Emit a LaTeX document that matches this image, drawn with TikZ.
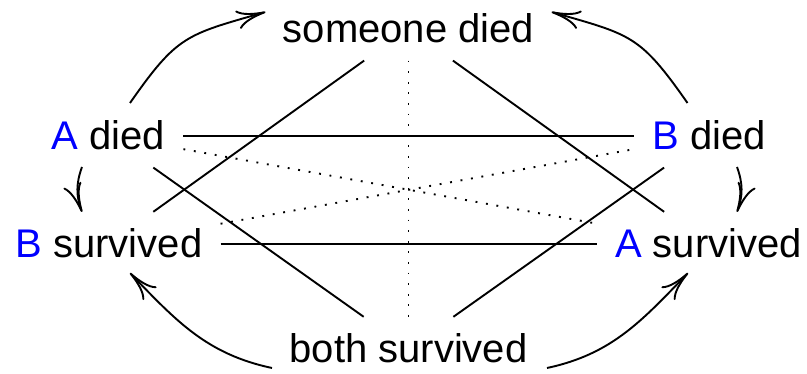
\documentclass[tikz,border=0pt]{standalone}
\usepackage{fontspec}
\setmainfont{Liberation Sans}
\usetikzlibrary{arrows.meta,calc}
\definecolor{lblue}{RGB}{0,0,255}
\begin{document}
\begin{tikzpicture}[x=1pt,y=1pt,
  lbl/.style={inner xsep=18pt,inner ysep=17pt,font=\fontsize{40}{48}\selectfont},
  conn/.style={line width=1.9pt},
  dotline/.style={line width=1.9pt,dash pattern=on 1.9pt off 8.7pt},
  arr/.style={line width=1.9pt,-{Computer Modern Rightarrow[length=29pt,width=19pt,line width=1.9pt]}}]
\useasboundingbox (0,0) rectangle (807,374);
\node[lbl,anchor=base] (sd)  at (408.5,331) {someone died};
\node[lbl,anchor=base] (ad)  at (108.5,224) {\textcolor{lblue}{A} died};
\node[lbl,anchor=base] (bd)  at (709,224)   {\textcolor{lblue}{B} died};
\node[lbl,anchor=base] (bs)  at (109,116)   {\textcolor{lblue}{B} survived};
\node[lbl,anchor=base] (as)  at (708.5,116) {\textcolor{lblue}{A} survived};
\node[lbl,anchor=base] (bsv) at (408.5,11)  {both survived};
% solid
\draw[conn] (ad) -- (bd);
\draw[conn] (bs) -- (as);
\draw[conn] (sd) -- (bs);
\draw[conn] (sd) -- (as);
\draw[conn] (ad) -- (bsv);
\draw[conn] (bd) -- (bsv);
% dotted
\draw[dotline] (sd) -- (bsv);
\draw[dotline] (ad) -- (as);
\draw[dotline] (bs) -- (bd);
% curved arrows
\draw[arr] ($(ad.base)+(21.5,47)$) to[out=55,in=196,looseness=1.3] ($(sd.base)+(-143,31)$);
\draw[arr] ($(bd.base)+(-21.5,47)$) to[out=125,in=-16,looseness=1.3] ($(sd.base)+(143,31)$);
\draw[arr] ($(ad.base)+(-26.5,-17)$) to[out=250,in=110] ($(bs.base)+(-27,46)$);
\draw[arr] ($(bd.base)+(28,-17)$) to[out=290,in=70] ($(as.base)+(28.5,46)$);
\draw[arr] ($(bsv.base)+(-136.5,-5)$) to[out=168,in=-46] ($(bs.base)+(21,-15)$);
\draw[arr] ($(bsv.base)+(138.5,-5)$) to[out=12,in=226] ($(as.base)+(-20.5,-15)$);
\end{tikzpicture}
\end{document}
